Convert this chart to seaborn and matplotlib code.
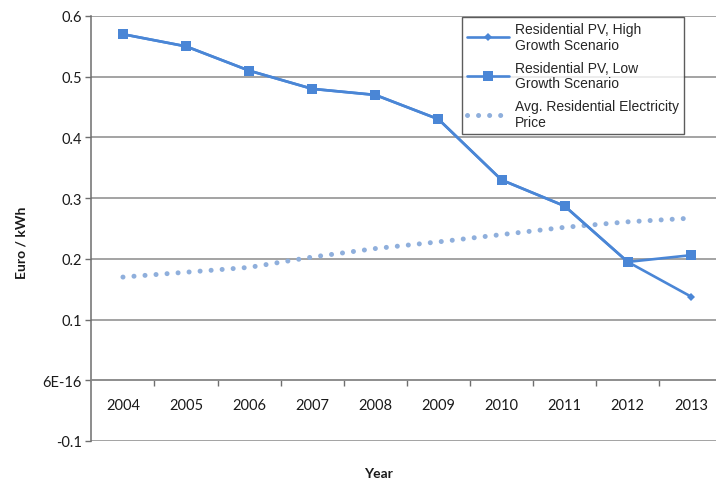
import matplotlib
matplotlib.use("Agg")
import matplotlib.pyplot as plt
import seaborn as sns
import numpy as np
import pandas as pd
from matplotlib.ticker import FixedLocator, FixedFormatter

years = [2004, 2005, 2006, 2007, 2008, 2009, 2010, 2011, 2012, 2013]
pv_high = [0.57, 0.55, 0.51, 0.48, 0.47, 0.43, 0.33, 0.287, 0.195, 0.138]
pv_low = [0.57, 0.55, 0.51, 0.48, 0.47, 0.43, 0.33, 0.287, 0.195, 0.206]
elec_price = [0.170, 0.178, 0.186, 0.203, 0.217, 0.228, 0.240, 0.252, 0.261, 0.267]
labels = ["Residential PV, High\nGrowth Scenario",
          "Residential PV, Low\nGrowth Scenario",
          "Avg. Residential Electricity\nPrice"]
ytick_vals = [-0.1, 0.0, 0.1, 0.2, 0.3, 0.4, 0.5, 0.6]
ytick_labels = ["-0.1", "6E-16", "0.1", "0.2", "0.3", "0.4", "0.5", "0.6"]

sns.set_style("white")
plt.rcParams['font.family'] = ['Lato', 'DejaVu Sans']

fig = plt.figure(figsize=(7.16, 4.81), dpi=100)
ax = fig.add_axes([91.4 / 716, 1 - 442 / 481, 631 / 716, 425 / 481])

blue = "#4A86D6"
light = "#8FAFDC"

df = pd.DataFrame({"Year": years, "high": pv_high, "low": pv_low, "elec": elec_price})

sns.lineplot(data=df, x="Year", y="high", ax=ax, color=blue, lw=1.9,
             marker="D", markersize=4.5, markeredgewidth=0, label=labels[0], zorder=3)
sns.lineplot(data=df, x="Year", y="low", ax=ax, color=blue, lw=1.9,
             marker="s", markersize=6.5, markeredgewidth=0, label=labels[1], zorder=4)
sns.lineplot(data=df, x="Year", y="elec", ax=ax, color=light, lw=3.6,
             linestyle=(0, (0.01, 2.2)), dash_capstyle="round", label=labels[2], zorder=2)

ax.set_xlim(2003.5, 2013.5)
ax.set_ylim(-0.1, 0.6)

# grid lines
for v in ytick_vals:
    ax.axhline(v, color="#8a8a8a", lw=1.1, zorder=1)

ax.yaxis.set_major_locator(FixedLocator(ytick_vals))
ax.yaxis.set_major_formatter(FixedFormatter(ytick_labels))
ax.xaxis.set_major_locator(FixedLocator(years))
ax.xaxis.set_major_formatter(FixedFormatter([str(y) for y in years]))
ax.xaxis.set_minor_locator(FixedLocator([y + 0.5 for y in years[:-1]]))

for s in ["top", "right"]:
    ax.spines[s].set_visible(False)
ax.spines["bottom"].set_position(("data", 0))
ax.spines["bottom"].set_color("#8a8a8a")
ax.spines["bottom"].set_linewidth(1.1)
ax.spines["left"].set_color("#6e6e6e")
ax.spines["left"].set_linewidth(1.1)

ax.tick_params(axis="y", which="major", left=True, length=4, width=1.0, color="#6e6e6e",
               labelsize=10.5, pad=3, labelcolor="#1a1a1a")
ax.tick_params(axis="x", which="major", bottom=True, length=0, labelsize=10.5, pad=13,
               labelcolor="#1a1a1a")
ax.tick_params(axis="x", which="minor", bottom=True, length=4, width=1.0, color="#6e6e6e")

ax.set_xlabel("")
ax.set_ylabel("")
fig.text(22 / 716, 1 - 243 / 481, "Euro / kWh", rotation=90, ha="center", va="center",
         fontsize=10, fontweight="bold", color="#1a1a1a")
fig.text(378 / 716, 1 - 474 / 481, "Year", ha="center", va="center",
         fontsize=10, fontweight="bold", color="#1a1a1a")

handles, _ = ax.get_legend_handles_labels()
leg = ax.legend(handles, labels, loc="upper left", bbox_to_anchor=(462 / 716, 1 - 18 / 481),
                bbox_transform=fig.transFigure, frameon=True, fancybox=False,
                prop={"family": "Liberation Sans", "size": 10}, handlelength=3.0,
                borderpad=0.35, labelspacing=0.65, handletextpad=0.45, borderaxespad=0)
for t in leg.get_texts():
    t.set_linespacing(1.15)
leg.get_frame().set_edgecolor("#333333")
leg.get_frame().set_linewidth(1.0)
leg.set_zorder(10)

fig.savefig("out.png", dpi=100)
